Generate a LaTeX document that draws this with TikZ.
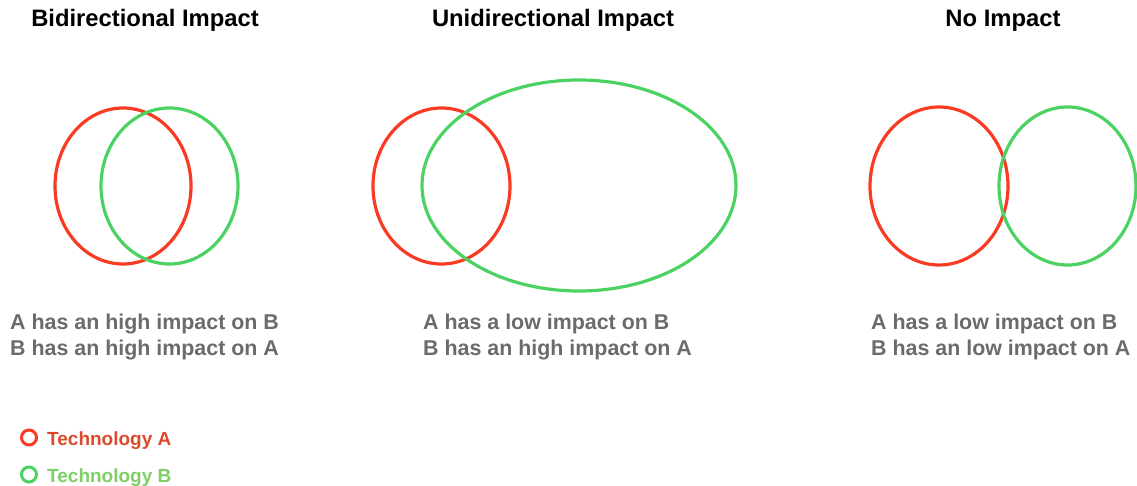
\documentclass[tikz,border=0pt]{standalone}
\usepackage{fontspec}
\setmainfont{Liberation Sans}
\definecolor{cA}{HTML}{FB3A24}
\definecolor{cB}{HTML}{4CD263}
\definecolor{tA}{HTML}{DB4A2B}
\definecolor{tB}{HTML}{7DCF66}
\definecolor{gtxt}{HTML}{6B6B6B}
\begin{document}
\begin{tikzpicture}[x=1pt,y=-1pt,
  ringA/.style={draw=cA,line width=3.2pt},
  ringB/.style={draw=cB,line width=3.2pt},
  ttl/.style={font=\fontsize{23.8}{28}\selectfont\bfseries,text=black,inner sep=0pt,anchor=base},
  desc/.style={font=\fontsize{21.4}{26}\selectfont\bfseries,text=gtxt,inner sep=0pt,anchor=base west,align=left},
  leg/.style={font=\fontsize{19}{22}\selectfont\bfseries,inner sep=0pt,anchor=base west}]
\useasboundingbox (0,0) rectangle (1137,486);
% titles
\node[ttl] (t1) at (145,27) {Bidirectional Impact};
\node[ttl] (t2) at (553,27) {Unidirectional Impact};
\node[ttl] (t3) at (1003,27) {No Impact};
% ellipses
\draw[ringA] (123,186) ellipse [x radius=68, y radius=78];
\draw[ringB] (169.5,186) ellipse [x radius=68.5, y radius=78];
\draw[ringA] (441.5,186) ellipse [x radius=68.5, y radius=78];
\draw[ringB] (579,185.5) ellipse [x radius=157, y radius=105.5];
\draw[ringA] (939,186) ellipse [x radius=69, y radius=79];
\draw[ringB] (1067.5,186) ellipse [x radius=68.5, y radius=79];
% descriptions
\node[desc] (d1) at (10,355) {A has an high impact on B\\B has an high impact on A};
\node[desc] (d2) at (423,355) {A has a low impact on B\\B has an high impact on A};
\node[desc] (d3) at (871,355) {A has a low impact on B\\B has an low impact on A};
% legend
\draw[draw=cA,line width=3pt] (29,437.5) circle [radius=7.5];
\node[leg,text=tA] (la) at (47,445) {Technology A};
\draw[draw=cB,line width=3pt] (29,474.5) circle [radius=7.5];
\node[leg,text=tB] (lb) at (47,482) {Technology B};
\end{tikzpicture}
\end{document}
